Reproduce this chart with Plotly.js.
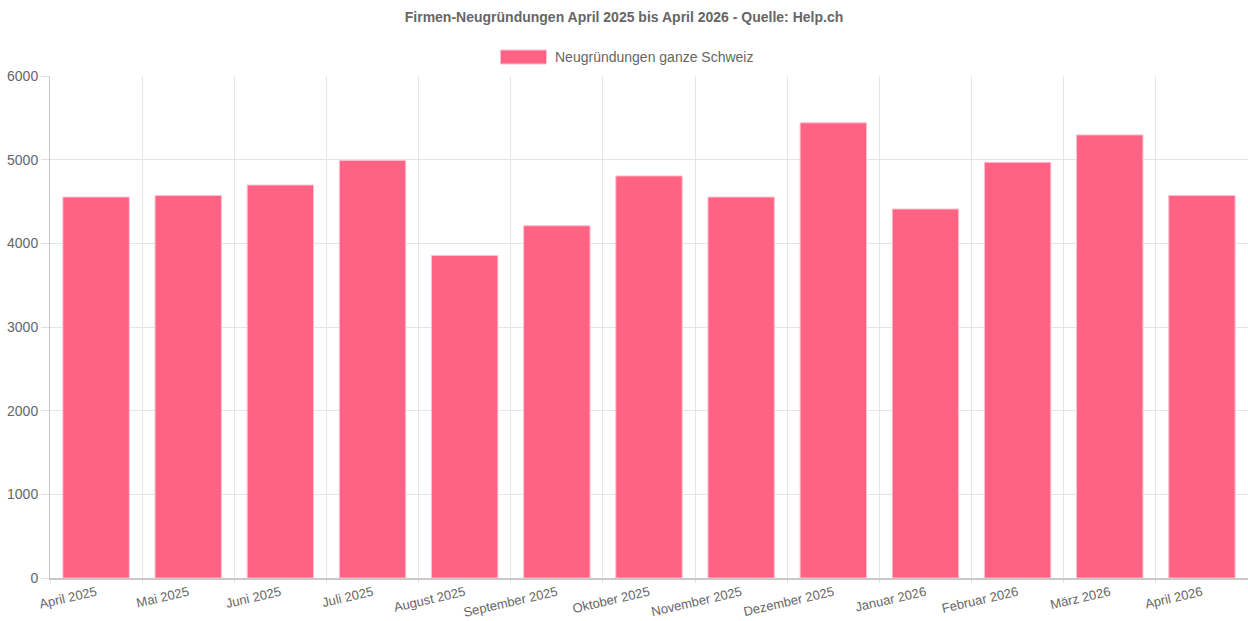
<!DOCTYPE html>
<html>
<head>
<meta charset="utf-8">
<script src="https://cdn.plot.ly/plotly-3.0.1.min.js"></script>
<style>html,body{margin:0;padding:0;background:#fff;}#chart{width:1248px;height:621px;}</style>
</head>
<body>
<div id="chart"></div>
<script>
const months = ["April 2025","Mai 2025","Juni 2025","Juli 2025","August 2025","September 2025","Oktober 2025","November 2025","Dezember 2025","Januar 2026","Februar 2026","März 2026","April 2026"];
const neugruendungen = [4553, 4572, 4697, 4991, 3854, 4210, 4805, 4553, 5440, 4410, 4968, 5296, 4572];
const seriesName = "Neugründungen ganze Schweiz";
const chartTitle = "Firmen-Neugründungen April 2025 bis April 2026 - Quelle: Help.ch";

const font = "Liberation Sans, Arial, Helvetica, sans-serif";
const plotTop = 76, plotBottom = 578, plotH = plotBottom - plotTop, plotL = 50, plotW = 1198;
const trace = {
  type: "bar",
  x: months,
  y: neugruendungen,
  name: seriesName,
  marker: {color: "#FF6384", line: {color: "rgba(255,190,205,1)", width: 1}},
  hoverinfo: "x+y",
  showlegend: false
};
const layout = {
  width: 1248, height: 621,
  margin: {l: plotL, r: 0, t: plotTop, b: 621 - plotBottom},
  paper_bgcolor: "#fff", plot_bgcolor: "#fff",
  font: {family: font, size: 14, color: "#666"},
  title: {text: "<b>" + chartTitle + "</b>", x: 0.5, xanchor: "center", y: 0.972, yanchor: "middle", font: {family: font, size: 14, color: "#666"}},
  bargap: 0.28,
  xaxis: {
    type: "category",
    tickson: "boundaries",
    ticks: "outside", ticklen: 3, tickcolor: "#e0e0e0", tickwidth: 1,
    tickangle: -13,
    showgrid: true, gridcolor: "#e5e5e5", gridwidth: 1,
    showline: true, linecolor: "#c8c8c8", linewidth: 2,
    tickfont: {family: font, size: 13, color: "#666"},
    fixedrange: true, automargin: false
  },
  yaxis: {
    range: [0, 6000], dtick: 1000,
    ticks: "outside", ticklen: 8, tickcolor: "#e0e0e0",
    showgrid: true, gridcolor: "#e5e5e5", gridwidth: 1,
    showline: true, linecolor: "#c8c8c8", linewidth: 1,
    zeroline: false,
    tickfont: {family: font, size: 14, color: "#666"},
    fixedrange: true, automargin: false
  },
  shapes: [{
    type: "rect", xref: "paper", yref: "paper",
    x0: (500.5 - plotL) / plotW, x1: (546.5 - plotL) / plotW,
    y0: (plotBottom - 64) / plotH, y1: (plotBottom - 50) / plotH,
    fillcolor: "#FF6384", line: {color: "rgba(255,190,205,1)", width: 1}
  }],
  annotations: [{
    text: seriesName, xref: "paper", yref: "paper",
    x: (553 - plotL) / plotW, y: (plotBottom - 57) / plotH,
    xanchor: "left", yanchor: "middle", showarrow: false,
    font: {family: font, size: 14, color: "#666"}
  }]
};
Plotly.newPlot("chart", [trace], layout, {displayModeBar: false, responsive: false});
</script>
</body>
</html>
